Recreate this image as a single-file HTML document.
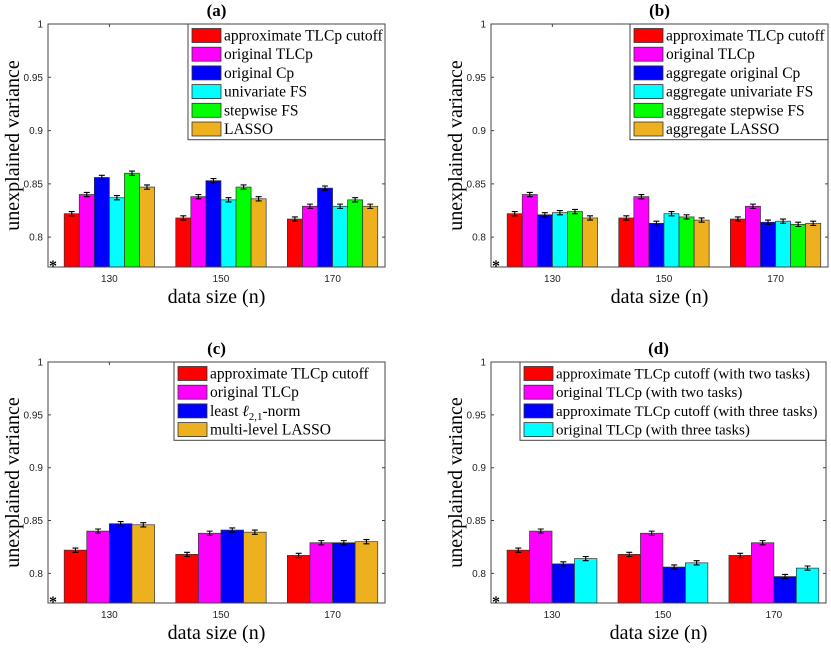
<!DOCTYPE html>
<html><head><meta charset="utf-8"><style>
body{margin:0;background:#fff;width:831px;height:643px;overflow:hidden}
svg text{font-family:"Liberation Serif",serif}
.tk{font-family:"Liberation Sans",sans-serif;font-size:10px;fill:#222}
</style></head><body>
<svg id="c" width="831" height="643" xmlns="http://www.w3.org/2000/svg"></svg>
<script>
const categories=["130","150","170"];
const yTicks=[0.8,0.85,0.9,0.95,1];
const yTickLabels=["0.8","0.85","0.9","0.95","1"];
const errA=0.002;
const aSeries=["approximate TLCp cutoff","original TLCp","original Cp","univariate FS","stepwise FS","LASSO"];
const aValues=[[0.822,0.818,0.817],[0.840,0.838,0.829],[0.856,0.853,0.846],[0.837,0.835,0.829],[0.860,0.847,0.835],[0.847,0.836,0.829]];
const bSeries=["approximate TLCp cutoff","original TLCp","aggregate original Cp","aggregate univariate FS","aggregate stepwise FS","aggregate LASSO"];
const bValues=[[0.822,0.818,0.817],[0.840,0.838,0.829],[0.821,0.813,0.814],[0.823,0.822,0.815],[0.824,0.819,0.812],[0.818,0.816,0.813]];
const cSeries=["approximate TLCp cutoff","original TLCp","least ℓ2,1-norm","multi-level LASSO"];
const cValues=[[0.822,0.818,0.817],[0.840,0.838,0.829],[0.847,0.841,0.829],[0.846,0.839,0.830]];
const dSeries=["approximate TLCp cutoff (with two tasks)","original TLCp (with two tasks)","approximate TLCp cutoff (with three tasks)","original TLCp (with three tasks)"];
const dValues=[[0.822,0.818,0.817],[0.840,0.838,0.829],[0.809,0.806,0.797],[0.814,0.810,0.805]];
const col6=["#ff0000","#ff00ff","#0000ff","#00ffff","#00ff00","#edb120"];
const colC=["#ff0000","#ff00ff","#0000ff","#edb120"];
const colD=["#ff0000","#ff00ff","#0000ff","#00ffff"];

const svg=document.getElementById('c');
const NS="http://www.w3.org/2000/svg";
function mk(tag,attrs,parent){const e=document.createElementNS(NS,tag);for(const k in attrs)e.setAttribute(k,attrs[k]);(parent||svg).appendChild(e);return e;}

function panel(id,title,L,R,T,B,series,values,colors,leg,fs){
  const g=mk('g',{});
  
  
  const ymin=0.772,ymax=1,xmin=0.45,xmax=3.47;
  const ys=v=>B-(v-ymin)/(ymax-ymin)*(B-T);
  const xs=v=>L+(v-xmin)/(xmax-xmin)*(R-L);
  const t=mk('text',{x:(L+R)/2,y:T-8,'text-anchor':'middle','font-size':'17','font-weight':'bold'},g);t.textContent='('+id+')';
  
  const n=series.length, gw=0.81, bw=gw/n;
  for(let s=0;s<n;s++){for(let c=0;c<categories.length;c++){
    const v=values[s][c];const x0=xs(c+1-gw/2+s*bw);const x1=xs(c+1-gw/2+(s+1)*bw);
    const r=mk('rect',{x:x0,y:ys(v),width:x1-x0,height:B-ys(v),fill:colors[s],stroke:'#333','stroke-width':'0.7'},g);
    
    
    const cx=(x0+x1)/2,y1=ys(v+errA),y2=ys(v-errA);
    const e=mk('path',{d:`M${cx},${y1}V${y2}M${cx-3},${y1}H${cx+3}M${cx-3},${y2}H${cx+3}`,stroke:'#000','stroke-width':'1.1',fill:'none'},g);
    
    
  }}
  const bx=mk('rect',{x:L,y:T,width:R-L,height:B-T,fill:'none',stroke:'#444','stroke-width':'1'},g);
  
  yTicks.forEach((v,i)=>{const y=ys(v);
    mk('path',{d:`M${L},${y}h3M${R},${y}h-3`,stroke:'#444'},g);
    const tt=mk('text',{x:L-5,y:y+3.5,'text-anchor':'end',class:'tk'},g);tt.textContent=yTickLabels[i];
    });
  categories.forEach((c,i)=>{const x=xs(i+1);
    mk('path',{d:`M${x},${B}v-3M${x},${T}v3`,stroke:'#444'},g);
    const tt=mk('text',{x:x,y:B+15,'text-anchor':'middle',class:'tk'},g);tt.textContent=c;
    });
  const st=mk('text',{x:L+1,y:B+4,'font-size':'16','font-family':'Liberation Sans','font-weight':'bold'},g);st.textContent='*';
  const yl=mk('text',{x:0,y:0,transform:`translate(${L-29},${(T+B)/2}) rotate(-90)`,'text-anchor':'middle','font-size':'20'},g);yl.textContent='unexplained variance';
  
  const xl=mk('text',{x:(L+R)/2,y:B+36,'text-anchor':'middle','font-size':'20'},g);xl.textContent='data size (n)';
  
  const lg=mk('g',{},g);
  
  const lh=18.7;
  mk('rect',{x:leg,y:T,width:R-leg,height:series.length*lh+3.5,fill:'#fff',stroke:'#444','stroke-width':'1'},lg);
  series.forEach((s,i)=>{const y=T+3+i*lh;
    mk('rect',{x:leg+4,y:y+1.5,width:29,height:14,fill:colors[i],stroke:'#333','stroke-width':'0.8'},lg);
    const tt=mk('text',{x:leg+36,y:y+13.5,'font-size':fs},lg);
    
    if(s.indexOf('ℓ2,1')>=0){tt.appendChild(document.createTextNode('least '));
      const a=mk('tspan',{'font-style':'italic'},tt);a.textContent='ℓ';
      const b=mk('tspan',{dy:'4','font-size':'11'},tt);b.textContent='2,1';
      const c=mk('tspan',{dy:'-4'},tt);c.textContent='-norm';}
    else tt.textContent=s;});
}
panel('a','a',48,385,24,267,aSeries,aValues,col6,188,'15.5');
panel('b','b',491,828,24,267,bSeries,bValues,col6,630,'15.5');
panel('c','c',48,385,362,603,cSeries,cValues,colC,174,'15.5');
panel('d','d',491,826,362,603,dSeries,dValues,colD,520,'15');
</script>
</body></html>
